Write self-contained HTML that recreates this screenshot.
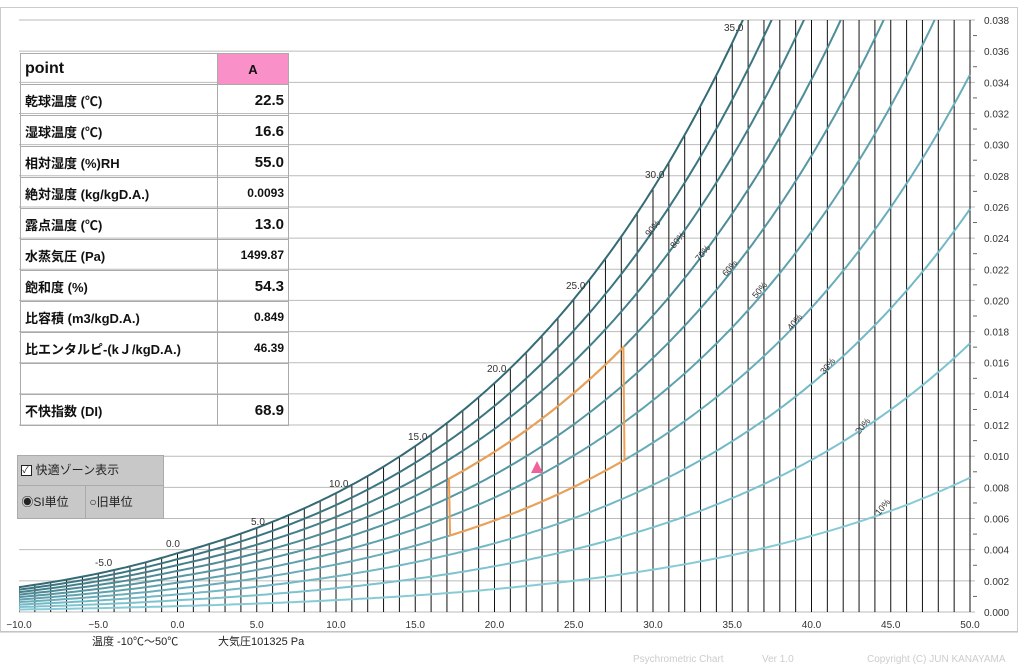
<!DOCTYPE html>
<html><head><meta charset="utf-8"><style>
body{margin:0;background:#fff;width:1024px;height:668px;overflow:hidden;font-family:"Liberation Sans","Noto Sans CJK JP",sans-serif}
svg{position:absolute;left:0;top:0}
table{position:absolute;left:20px;top:53px;border-collapse:collapse;font-weight:bold}
td{border:1px solid #aaa;height:30px;padding:0 4px;font-size:13px;color:#111}
td.v{text-align:right;font-size:15px;width:62px}
td.s{font-size:12px}
.panel{position:absolute;background:#c8c8c8;border:1px solid #aaa;font-size:12px;color:#222}
.foot{position:absolute;font-size:10px;color:#ccc}
</style></head><body>
<svg id="s" width="1024" height="668"></svg>
<table>
<tr><td style="width:188px;font-size:16px">point</td><td class="v" style="background:#f990c8;text-align:center;font-size:13px">A</td></tr>
<tr><td>乾球温度 (℃)</td><td class="v">22.5</td></tr>
<tr><td>湿球温度 (℃)</td><td class="v">16.6</td></tr>
<tr><td>相対湿度 (%)RH</td><td class="v">55.0</td></tr>
<tr><td>絶対湿度 (kg/kgD.A.)</td><td class="v s">0.0093</td></tr>
<tr><td>露点温度 (℃)</td><td class="v">13.0</td></tr>
<tr><td>水蒸気圧 (Pa)</td><td class="v s">1499.87</td></tr>
<tr><td>飽和度 (%)</td><td class="v">54.3</td></tr>
<tr><td>比容積 (m3/kgD.A.)</td><td class="v s">0.849</td></tr>
<tr><td>比エンタルピ-(kＪ/kgD.A.)</td><td class="v s">46.39</td></tr>
<tr><td></td><td class="v"></td></tr>
<tr><td>不快指数 (DI)</td><td class="v">68.9</td></tr>
</table>
<div class="panel" style="left:17px;top:455px;width:145px;height:29px;line-height:29px">&nbsp;<span style="display:inline-block;width:9px;height:9px;border:1px solid #222;background:#fff;font-size:9px;line-height:9px;vertical-align:middle">✓</span> 快適ゾーン表示</div>
<div class="panel" style="left:17px;top:485px;width:67px;height:32px;line-height:32px">&nbsp;◉SI単位</div>
<div class="panel" style="left:85px;top:485px;width:77px;height:32px;line-height:32px">&nbsp;○旧単位</div>
<div style="position:absolute;left:92px;top:633px;font-size:11px;color:#222">温度 -10℃～50℃</div>
<div style="position:absolute;left:218px;top:633px;font-size:11px;color:#222">大気圧101325 Pa</div>
<div class="foot" style="left:633px;top:654px">Psychrometric Chart</div>
<div class="foot" style="left:762px;top:654px">Ver 1.0</div>
<div class="foot" style="left:867px;top:654px">Copyright (C) JUN KANAYAMA</div>
<script>
var P=101325,X0=19,XS=15.85,Y0=612,YS=592/0.038;
function px(t){return X0+(t+10)*XS}function py(w){return Y0-w*YS}
function pws(t){return t>=0?610.78*Math.exp(17.27*t/(t+237.3)):610.78*Math.exp(21.875*t/(t+265.5))}
function W(t,r){var p=pws(t);return r*0.622*p/(P-p)}
var h='<defs><clipPath id="c"><rect x="19" y="20" width="954" height="592"/></clipPath></defs>';
h+='<rect x="0.5" y="7.5" width="1017" height="624" fill="none" stroke="#ccc"/>';
for(var i=0;i<=19;i++){var y=py(i*0.002);h+='<line x1="19" x2="975" y1="'+y+'" y2="'+y+'" stroke="#bbb"/>';
h+='<text x="984" y="'+(y+4)+'" font-size="10" fill="#333">'+(i*0.002).toFixed(3)+'</text>';
var y2=py(i*0.002+0.001);if(i<19)h+='<line x1="973" x2="977" y1="'+y2+'" y2="'+y2+'" stroke="#666"/>';}
h+='<g clip-path="url(#c)">';
for(var t=-10;t<=50;t++){var x=px(t);h+='<line x1="'+x+'" x2="'+x+'" y1="612" y2="'+py(W(t,1))+'" stroke="#111" stroke-width="1"/>';}
var cols=['#86cbd6','#7dc2cf','#73b8c5','#69adba','#5fa2ae','#5697a3','#4d8b97','#44808b','#3b7580','#336a74'];
for(var r=1;r<=10;r++){var d='';for(var t=-10;t<=50.01;t+=0.25){d+=(d?'L':'M')+px(t).toFixed(1)+','+py(W(t,r/10)).toFixed(1);}
h+='<path d="'+d+'" fill="none" stroke="'+cols[r-1]+'" stroke-width="2"/>';}
h+='</g>';
var d='';for(var t=17.13;t<=28.21;t+=0.2)d+=(d?'L':'M')+px(t).toFixed(1)+','+py(W(t,.7)).toFixed(1);
for(var t=28.2;t>=17.12;t-=0.2)d+='L'+px(t).toFixed(1)+','+py(W(t,.4)).toFixed(1);
h+='<path d="'+d+'Z" fill="none" stroke="#f0a050" stroke-width="2"/>';
h+='<polygon points="537,461 531,473 543,473" fill="#f0609a"/>';
var sl=[[-5,95,566],[0,166,547],[5,251,525],[10,329,487],[15,408,440],[20,487,372],[25,566,289],[30,645,178],[35,724,31]];
sl.forEach(function(a){h+='<text x="'+a[1]+'" y="'+a[2]+'" font-size="10" fill="#333">'+a[0].toFixed(1)+'</text>';});
var rl=[[90,655,230],[80,680,242],[70,705,255],[60,732,270],[50,762,292],[40,797,324],[30,830,368],[20,865,428],[10,885,509]];
rl.forEach(function(a){h+='<text x="'+a[1]+'" y="'+a[2]+'" font-size="9" fill="#333" transform="rotate(-50 '+a[1]+' '+a[2]+')" text-anchor="middle">'+a[0]+'%</text>';});
for(var t=-10;t<=50;t+=5){h+='<text x="'+px(t)+'" y="628" font-size="10" fill="#333" text-anchor="middle">'+(t<0?'−':'')+Math.abs(t).toFixed(1)+'</text>';}
h+='<line x1="0" x2="1018" y1="632" y2="632" stroke="#bbb"/>';
document.getElementById('s').innerHTML=h;
</script>
</body></html>
